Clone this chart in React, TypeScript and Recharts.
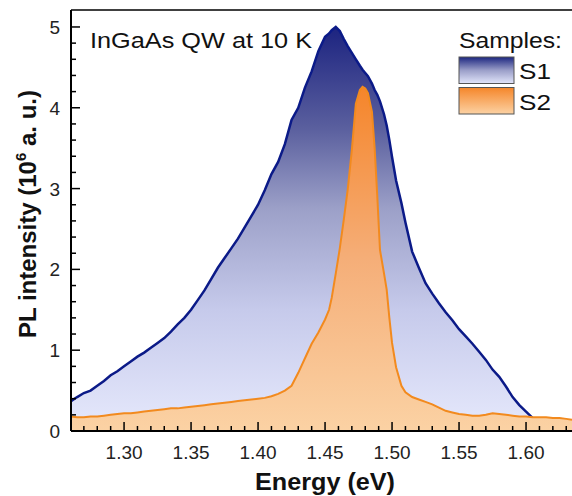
import React from 'react'
import { ComposedChart, Area, XAxis, YAxis } from 'recharts'

// photon energy (eV)
const energy = [
  1.2604, 1.265, 1.27, 1.275, 1.28, 1.285, 1.29, 1.295, 1.3, 1.305, 1.31, 1.315, 1.32,
  1.325, 1.33, 1.335, 1.34, 1.345, 1.35, 1.355, 1.36, 1.365, 1.37, 1.375, 1.38, 1.385,
  1.39, 1.395, 1.4, 1.405, 1.41, 1.415, 1.42, 1.425, 1.43, 1.435, 1.44, 1.445, 1.45,
  1.453, 1.455, 1.458, 1.461, 1.464, 1.467, 1.47, 1.473, 1.476, 1.478, 1.48, 1.482,
  1.485, 1.487, 1.489, 1.491, 1.494, 1.496, 1.498, 1.5, 1.503, 1.507, 1.51, 1.515,
  1.52, 1.525, 1.53, 1.535, 1.54, 1.545, 1.55, 1.555, 1.56, 1.565, 1.57, 1.575, 1.58,
  1.585, 1.59, 1.595, 1.6, 1.605, 1.61, 1.615, 1.62, 1.625, 1.63, 1.6343,
]

// PL intensity, 10^6 a.u.
const s1 = [
  0.37, 0.42, 0.47, 0.5, 0.56, 0.62, 0.69, 0.74, 0.8, 0.86, 0.92, 0.97, 1.03,
  1.09, 1.15, 1.23, 1.32, 1.4, 1.5, 1.62, 1.74, 1.88, 2.02, 2.14, 2.26, 2.38,
  2.52, 2.66, 2.8, 2.98, 3.18, 3.33, 3.55, 3.85, 4.0, 4.25, 4.45, 4.7, 4.88,
  4.92, 4.96, 5.0, 4.95, 4.85, 4.76, 4.68, 4.6, 4.52, 4.47, 4.43, 4.39,
  4.3, 4.22, 4.16, 4.08, 3.92, 3.78, 3.6, 3.39, 3.1, 2.82, 2.58, 2.22,
  2.02, 1.83, 1.7, 1.58, 1.47, 1.37, 1.26, 1.17, 1.08, 0.98, 0.88, 0.76, 0.67,
  0.55, 0.42, 0.32, 0.24, 0.16, 0.1, 0.08, 0.07, 0.06, 0.06, 0.05,
]

const s2 = [
  0.18, 0.17, 0.17, 0.18, 0.18, 0.19, 0.2, 0.21, 0.22, 0.22, 0.23, 0.24, 0.25,
  0.26, 0.27, 0.28, 0.28, 0.29, 0.3, 0.31, 0.32, 0.33, 0.34, 0.35, 0.36, 0.37,
  0.38, 0.39, 0.4, 0.41, 0.43, 0.46, 0.5, 0.56, 0.72, 0.9, 1.08, 1.22, 1.38,
  1.5, 1.65, 1.95, 2.26, 2.62, 3.0, 3.48, 4.05, 4.22, 4.26, 4.24, 4.18,
  3.95, 3.5, 2.9, 2.24, 1.95, 1.75, 1.4, 1.09, 0.79, 0.56, 0.48, 0.42,
  0.39, 0.36, 0.33, 0.29, 0.25, 0.23, 0.21, 0.2, 0.19, 0.19, 0.2, 0.22, 0.21,
  0.2, 0.19, 0.18, 0.18, 0.17, 0.17, 0.17, 0.16, 0.16, 0.15, 0.14,
]

const xMajorTicks = [1.3, 1.35, 1.4, 1.45, 1.5, 1.55, 1.6]
const yMajorTicks = [0, 1, 2, 3, 4, 5]
const seriesNames = ['S1', 'S2']

const data = energy.map((e, i) => ({ energy: e, s1: s1[i], s2: s2[i] }))

const W = 572
const H = 496
const PLOT_LEFT = 71
const PLOT_TOP = 10
const PLOT_BOTTOM = 431
const X_DOMAIN: [number, number] = [1.2604, 1.6343]
const Y_DOMAIN: [number, number] = [0, 5.21]

// minor ticks every 0.01 eV and 0.2 units
const xTicks = Array.from({ length: 37 }, (_, i) => +(1.27 + i * 0.01).toFixed(2))
const yTicks = Array.from({ length: 26 }, (_, i) => +(i * 0.2).toFixed(1))

const FONT = 'Arial, "Liberation Sans", sans-serif'

function XTick(props: any) {
  const { x, payload } = props
  const v = payload.value
  const major = xMajorTicks.some((m) => Math.abs(m - v) < 1e-6)
  return (
    <g>
      <line x1={x} x2={x} y1={PLOT_BOTTOM} y2={PLOT_BOTTOM - (major ? 9 : 5)} stroke="#000" strokeWidth={1.5} />
      {major && (
        <text x={x} y={PLOT_BOTTOM + 28} textAnchor="middle" fontSize={19} fontFamily={FONT} fill="#222">
          {v.toFixed(2)}
        </text>
      )}
    </g>
  )
}

function YTick(props: any) {
  const { y, payload } = props
  const v = payload.value
  const major = yMajorTicks.some((m) => Math.abs(m - v) < 1e-6)
  return (
    <g>
      <line x1={PLOT_LEFT} x2={PLOT_LEFT + (major ? 9 : 5)} y1={y} y2={y} stroke="#000" strokeWidth={1.5} />
      {major && (
        <text x={PLOT_LEFT - 11} y={y + 7} textAnchor="end" fontSize={19} fontFamily={FONT} fill="#222">
          {v}
        </text>
      )}
    </g>
  )
}

export default function App() {
  return (
    <div style={{ position: 'absolute', left: 0, top: 0, width: W, height: H, background: '#fff' }}>
      <ComposedChart
        width={W}
        height={H}
        data={data}
        margin={{ top: PLOT_TOP, right: 0, bottom: 0, left: 0 }}
      >
        <defs>
          <linearGradient id="gradS1" x1="0" y1="0" x2="0" y2="1">
            <stop offset="0" stopColor="#1c2380" />
            <stop offset="0.25" stopColor="#5a5f9e" />
            <stop offset="0.45" stopColor="#9ca0c8" />
            <stop offset="0.7" stopColor="#c6caeb" />
            <stop offset="1" stopColor="#e6e9fc" />
          </linearGradient>
          <linearGradient id="gradS2" x1="0" y1="0" x2="0" y2="1">
            <stop offset="0" stopColor="#f5852a" />
            <stop offset="0.5" stopColor="#f5ae78" />
            <stop offset="1" stopColor="#fbd2a4" />
          </linearGradient>
        </defs>
        <XAxis
          dataKey="energy"
          type="number"
          domain={X_DOMAIN}
          allowDataOverflow
          ticks={xTicks}
          interval={0}
          height={H - PLOT_BOTTOM}
          tickLine={false}
          tickSize={0}
          axisLine={{ stroke: '#000', strokeWidth: 2 }}
          tick={<XTick />}
        />
        <YAxis
          type="number"
          domain={Y_DOMAIN}
          allowDataOverflow
          ticks={yTicks}
          interval={0}
          width={PLOT_LEFT}
          tickLine={false}
          tickSize={0}
          axisLine={{ stroke: '#000', strokeWidth: 2 }}
          tick={<YTick />}
        />
        <Area
          dataKey="s1"
          name="S1"
          type="linear"
          stroke="#0b1a88"
          strokeWidth={2.5}
          fill="url(#gradS1)"
          fillOpacity={1}
          isAnimationActive={false}
          dot={false}
          activeDot={false}
        />
        <Area
          dataKey="s2"
          name="S2"
          type="linear"
          stroke="#f28a1e"
          strokeWidth={2}
          fill="url(#gradS2)"
          fillOpacity={1}
          isAnimationActive={false}
          dot={false}
          activeDot={false}
        />
      </ComposedChart>
      <svg
        width={W}
        height={H}
        style={{ position: 'absolute', left: 0, top: 0, pointerEvents: 'none' }}
        fontFamily={FONT}
      >
        <defs>
          <linearGradient id="legS1" x1="0" y1="0" x2="0" y2="1">
            <stop offset="0" stopColor="#1c2680" />
            <stop offset="0.5" stopColor="#9a9ec8" />
            <stop offset="1" stopColor="#e2e5fa" />
          </linearGradient>
          <linearGradient id="legS2" x1="0" y1="0" x2="0" y2="1">
            <stop offset="0" stopColor="#f5862a" />
            <stop offset="1" stopColor="#fcd2a4" />
          </linearGradient>
        </defs>
        <line x1={PLOT_LEFT} x2={W} y1={PLOT_TOP} y2={PLOT_TOP} stroke="#000" strokeWidth={1.5} />
        <text x={90} y={48} fontSize={22} fill="#111" textLength={222} lengthAdjust="spacingAndGlyphs">
          InGaAs QW at 10 K
        </text>
        <text x={459} y={48} fontSize={22} fill="#111" textLength={103} lengthAdjust="spacingAndGlyphs">
          Samples:
        </text>
        {seriesNames.map((name, i) => (
          <g key={name}>
            <rect
              x={459}
              y={57 + i * 30.5}
              width={55}
              height={26.5}
              fill={i === 0 ? 'url(#legS1)' : 'url(#legS2)'}
              stroke="#555"
              strokeWidth={1}
            />
            <text x={519} y={79 + i * 30.5} fontSize={22} fill="#111" textLength={32} lengthAdjust="spacingAndGlyphs">
              {name}
            </text>
          </g>
        ))}
        <text
          x={325}
          y={490}
          textAnchor="middle"
          fontSize={24}
          fontWeight="bold"
          fill="#111"
          textLength={140}
          lengthAdjust="spacingAndGlyphs"
        >
          Energy (eV)
        </text>
        <text
          transform="translate(36, 214) rotate(-90)"
          textAnchor="middle"
          fontSize={24}
          fontWeight="bold"
          fill="#111"
        >
          PL intensity (10<tspan fontSize={15} dy={-10}>6</tspan>
          <tspan dy={10}> a. u.)</tspan>
        </text>
      </svg>
    </div>
  )
}
